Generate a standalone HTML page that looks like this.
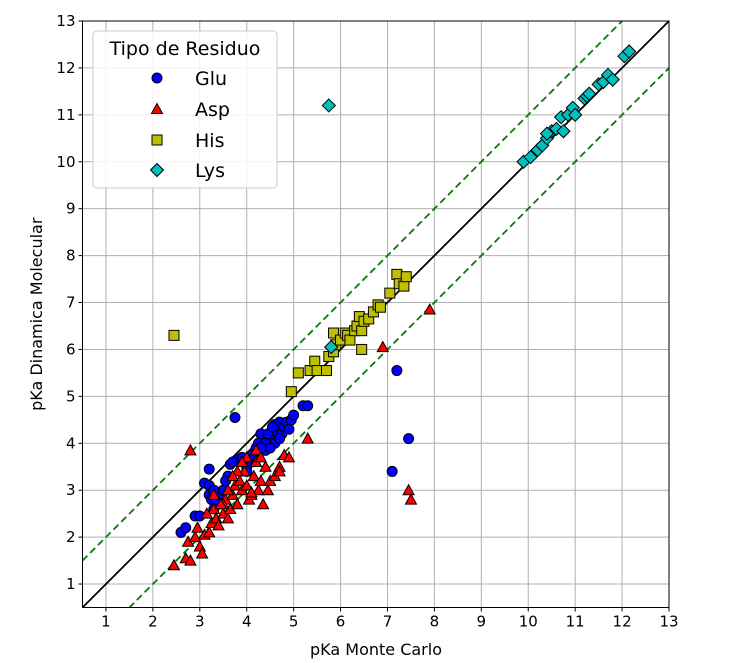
<!DOCTYPE html>
<html><head><meta charset="utf-8"><style>
html,body{margin:0;padding:0;background:#fff;}
svg{display:block;font-family:"DejaVu Sans","Liberation Sans",sans-serif;}
</style></head><body>
<svg id="chart" width="752" height="663"></svg>
<script>
const xTicks=[1,2,3,4,5,6,7,8,9,10,11,12,13];
const yTicks=[1,2,3,4,5,6,7,8,9,10,11,12,13];
const gluX=[2.6,2.7,2.9,3.0,3.1,3.2,3.2,3.2,3.25,3.3,3.3,3.4,3.5,3.6,3.65,3.75,3.8,3.9,4.0,4.1,4.15,4.2,4.25,4.3,4.35,4.4,4.5,4.55,4.6,4.65,4.7,4.75,4.8,4.85,4.9,4.95,5.0,5.2,5.3,4.4,4.5,4.6,4.2,4.0,3.7,3.3,7.2,7.1,7.45,4.45,4.55,4.7,4.3,4.1,3.55,3.35];
const gluY=[2.1,2.2,2.45,2.45,3.15,3.1,2.9,3.45,2.8,2.6,2.95,2.9,3.0,3.3,3.55,4.55,3.65,3.7,3.5,3.6,3.8,3.9,4.0,4.2,3.95,3.85,4.1,4.3,4.0,4.25,4.45,4.2,4.35,4.45,4.3,4.5,4.6,4.8,4.8,4.0,3.9,4.4,3.7,3.4,3.6,3.0,5.55,3.4,4.1,4.2,4.35,4.1,3.9,3.75,3.2,2.75];
const aspX=[2.45,2.7,2.8,2.75,2.9,2.95,3.0,3.05,3.1,3.2,3.25,3.3,3.35,3.4,3.5,3.55,3.6,3.65,3.7,3.75,3.8,3.85,3.9,3.95,4.0,4.05,4.1,4.15,4.2,4.25,4.3,4.35,4.4,4.5,4.6,4.7,4.8,4.9,5.3,2.8,3.6,3.8,4.0,4.2,3.3,6.9,7.9,7.45,7.5,4.7,4.1,3.5,3.15,3.45,3.7,4.45,4.3,3.9];
const aspY=[1.4,1.55,1.5,1.9,2.0,2.2,1.8,1.65,2.05,2.1,2.3,2.6,2.4,2.25,2.5,2.8,2.4,2.6,2.9,3.1,2.7,3.2,3.0,3.4,3.1,2.8,2.9,3.3,3.6,3.0,3.2,2.7,3.5,3.2,3.3,3.5,3.75,3.7,4.1,3.85,3.0,3.4,3.7,3.85,2.9,6.05,6.85,3.0,2.8,3.4,2.95,2.7,2.5,2.7,3.3,3.0,3.7,3.6];
const hisX=[2.45,4.95,5.1,5.35,5.45,5.5,5.7,5.75,5.85,5.85,5.9,6.0,6.1,6.15,6.2,6.3,6.35,6.4,6.45,6.45,6.5,6.6,6.7,6.8,6.85,7.05,7.2,7.25,7.35,7.4];
const hisY=[6.3,5.1,5.5,5.55,5.75,5.55,5.55,5.85,5.95,6.35,6.1,6.2,6.35,6.3,6.2,6.4,6.5,6.7,6.0,6.4,6.6,6.65,6.8,6.95,6.9,7.2,7.6,7.4,7.35,7.55];
const lysX=[5.75,5.8,9.9,10.05,10.2,10.3,10.4,10.5,10.6,10.7,10.75,10.85,10.95,11.0,11.2,11.25,11.5,11.6,11.7,11.8,12.05,12.15,10.4,11.3];
const lysY=[11.2,6.05,10.0,10.1,10.25,10.35,10.5,10.65,10.7,10.95,10.65,11.0,11.15,11.0,11.35,11.4,11.65,11.7,11.85,11.75,12.25,12.35,10.6,11.45];

const L=82.5,R=669,T=21,B=607.5,X0=0.5,X1=13,Y0=0.5,Y1=13;
const sx=v=>L+(v-X0)/(X1-X0)*(R-L);
const sy=v=>B-(v-Y0)/(Y1-Y0)*(B-T);
const NS="http://www.w3.org/2000/svg";
const svg=document.getElementById('chart');
function mk(tag,attrs,parent){const e=document.createElementNS(NS,tag);for(const k in attrs)e.setAttribute(k,attrs[k]);(parent||svg).appendChild(e);return e;}

const grid=mk('g',{});


xTicks.forEach(t=>{const l=mk('line',{x1:sx(t),x2:sx(t),y1:T,y2:B,stroke:'#b0b0b0','stroke-width':1},grid);

});
yTicks.forEach(t=>{const l=mk('line',{x1:L,x2:R,y1:sy(t),y2:sy(t),stroke:'#b0b0b0','stroke-width':1},grid);

});

const clip=mk('clipPath',{id:'pc'});mk('rect',{x:L,y:T,width:R-L,height:B-T},clip);
const lines=mk('g',{'clip-path':'url(#pc)'});
const d1=mk('line',{x1:sx(0),y1:sy(1),x2:sx(13),y2:sy(14),stroke:'#008000','stroke-width':1.8,'stroke-dasharray':'7,4'},lines);


const d2=mk('line',{x1:sx(0),y1:sy(-1),x2:sx(14),y2:sy(13),stroke:'#008000','stroke-width':1.8,'stroke-dasharray':'7,4'},lines);


const id=mk('line',{x1:sx(0),y1:sy(0),x2:sx(14),y2:sy(14),stroke:'#000','stroke-width':1.8},lines);



const pts=mk('g',{'clip-path':'url(#pc)'});
gluX.forEach((x,i)=>{const c=mk('circle',{cx:sx(x),cy:sy(gluY[i]),r:5,fill:'#0000ff',stroke:'#000','stroke-width':1},pts);

});
aspX.forEach((x,i)=>{const X=sx(x),Y=sy(aspY[i]);const p=mk('polygon',{points:`${X},${Y-5.5} ${X-5.5},${Y+4.5} ${X+5.5},${Y+4.5}`,fill:'#ff0000',stroke:'#000','stroke-width':1},pts);

});
hisX.forEach((x,i)=>{const r=mk('rect',{x:sx(x)-5,y:sy(hisY[i])-5,width:10,height:10,fill:'#bfbf00',stroke:'#000','stroke-width':1},pts);

});
lysX.forEach((x,i)=>{const X=sx(x),Y=sy(lysY[i]);const p=mk('polygon',{points:`${X},${Y-6.5} ${X+6.5},${Y} ${X},${Y+6.5} ${X-6.5},${Y}`,fill:'#00bfbf',stroke:'#000','stroke-width':1},pts);

});

const frame=mk('rect',{x:L,y:T,width:R-L,height:B-T,fill:'none',stroke:'#000','stroke-width':1});



xTicks.forEach(t=>{mk('line',{x1:sx(t),x2:sx(t),y1:B,y2:B+4,stroke:'#000'});
const tx=mk('text',{x:sx(t),y:B+19,'text-anchor':'middle','font-size':15});tx.textContent=t;

});
yTicks.forEach(t=>{mk('line',{x1:L-4,x2:L,y1:sy(t),y2:sy(t),stroke:'#000'});
const tx=mk('text',{x:L-7,y:sy(t)+5,'text-anchor':'end','font-size':15});tx.textContent=t;

});

const xl=mk('text',{x:376,y:655,'text-anchor':'middle','font-size':16});xl.textContent='pKa Monte Carlo';


const yl=mk('text',{x:0,y:0,'text-anchor':'middle','font-size':16,transform:`translate(42,${(T+B)/2}) rotate(-90)`});yl.textContent='pKa Dinamica Molecular';



const lg=mk('g',{});


mk('rect',{x:93,y:31,width:184,height:157,rx:4,fill:'#fff','fill-opacity':0.85,stroke:'#cccccc'},lg);
const lt=mk('text',{x:185,y:55,'text-anchor':'middle','font-size':19},lg);lt.textContent='Tipo de Residuo';


const names=['Glu','Asp','His','Lys'];const ys=[78,109,140,170];
names.forEach((n,i)=>{const y=ys[i],x=157;
if(i==0)mk('circle',{cx:x,cy:y,r:5,fill:'#0000ff',stroke:'#000'},lg);
if(i==1)mk('polygon',{points:`${x},${y-5.5} ${x-5.5},${y+4.5} ${x+5.5},${y+4.5}`,fill:'#ff0000',stroke:'#000'},lg);
if(i==2)mk('rect',{x:x-5,y:y-5,width:10,height:10,fill:'#bfbf00',stroke:'#000'},lg);
if(i==3)mk('polygon',{points:`${x},${y-6.5} ${x+6.5},${y} ${x},${y+6.5} ${x-6.5},${y}`,fill:'#00bfbf',stroke:'#000'},lg);
const t=mk('text',{x:195,y:y+7,'font-size':19},lg);t.textContent=n;

});
</script>
</body></html>
